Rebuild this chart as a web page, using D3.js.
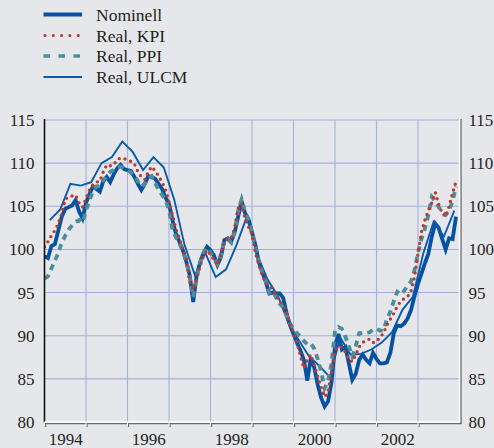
<!DOCTYPE html>
<html><head><meta charset="utf-8">
<script src="https://cdn.jsdelivr.net/npm/d3@7"></script>
<style>
html,body{margin:0;padding:0;background:#e6e7ea;}
svg{display:block;}
</style></head>
<body>
<script>
// ---- data (monthly, Jan 1994 – Dec 2003) ----
const startYear = 1994;
const nominell = [
 99.2,99.0,100.4,100.6,102.2,103.8,104.7,104.9,105.1,105.7,104.4,103.6,
 105.4,106.4,107.3,107.0,106.7,107.9,108.4,107.8,108.7,109.4,109.8,109.3,
 109.2,109.1,108.4,107.6,106.9,107.6,108.5,108.4,108.2,107.6,107.0,106.0,
 105.3,103.4,101.8,100.9,99.9,98.6,97.0,93.9,97.0,98.5,99.6,100.3,
 99.9,99.3,98.2,99.1,101.1,101.3,100.9,102.0,103.8,105.6,104.2,103.5,
 102.0,100.5,98.5,97.3,96.2,94.9,95.0,94.9,94.9,94.4,92.6,91.2,
 90.2,89.2,88.3,87.2,84.8,87.4,86.3,84.3,82.8,81.8,82.4,84.6,
 88.8,90.2,88.4,88.7,86.8,84.9,85.6,87.2,87.8,87.2,86.8,88.0,
 87.3,86.8,86.8,86.9,88.0,90.3,91.2,91.1,91.4,92.0,93.0,94.6,
 96.0,97.2,98.4,99.5,101.5,103.0,102.5,101.2,100.0,101.3,101.2,103.8];
const realKPI = [
 100.3,100.9,101.6,102.2,103.0,104.2,105.8,106.1,106.2,106.3,105.4,104.9,
 105.9,106.9,107.5,107.8,107.9,109.0,109.8,109.7,109.8,110.4,110.6,110.5,
 110.4,110.2,109.9,109.0,108.4,108.1,109.0,109.6,109.1,108.5,107.8,106.9,
 105.5,104.0,102.4,101.3,100.0,99.0,96.2,95.3,96.6,98.1,99.3,99.9,
 99.4,98.8,98.2,99.5,100.8,101.3,101.3,102.5,104.8,105.3,103.6,102.6,
 101.8,99.6,98.2,97.0,96.1,95.8,95.4,94.6,94.0,93.5,92.7,91.3,
 90.4,89.2,87.7,86.2,87.2,87.8,86.6,85.3,84.0,82.9,83.5,85.8,
 88.3,88.7,88.7,88.1,87.2,87.0,87.8,88.7,89.2,89.5,89.6,89.2,
 89.3,89.8,90.3,91.2,91.9,92.6,93.4,94.0,94.3,94.5,95.2,96.8,
 99.5,102.0,103.4,104.5,105.4,106.6,105.2,104.2,103.8,105.0,106.5,107.9];
const realPPI = [
 96.6,96.9,97.8,98.7,99.6,100.8,101.6,102.3,102.8,103.2,103.4,103.1,
 104.5,105.7,106.7,107.3,107.4,108.0,108.5,109.0,109.2,109.5,109.6,109.4,
 109.2,108.9,108.6,107.9,107.3,107.6,108.2,108.5,107.7,106.9,106.3,105.7,
 104.6,102.3,101.4,100.7,99.8,98.6,96.8,94.5,96.8,98.4,99.6,100.2,
 99.6,99.0,98.3,99.3,101.0,101.2,100.8,102.2,104.5,105.8,104.3,103.4,
 101.9,100.2,98.6,97.2,96.3,95.0,95.2,94.4,93.7,93.3,92.4,91.4,
 90.8,90.3,89.9,89.4,89.0,89.1,88.5,87.3,85.8,83.9,84.7,86.8,
 90.6,91.0,90.8,89.9,88.8,87.6,88.8,90.3,90.3,90.3,90.4,90.7,
 90.8,90.6,90.6,91.9,92.8,94.0,95.1,94.8,95.2,95.8,96.3,97.6,
 99.6,101.2,102.4,104.0,106.1,105.6,104.9,104.3,104.0,104.5,105.6,107.3];
// quarterly, Q1 1994 – Q4 2003
const realULCM = [
 103.4,104.6,107.6,107.4,107.8,110.0,110.7,112.5,111.3,109.2,110.7,109.5,
 105.8,100.5,97.0,99.6,96.8,97.7,100.5,103.8,99.4,96.5,94.6,91.5,
 89.5,87.6,86.5,85.2,89.8,87.8,87.9,88.4,89.2,90.4,93.0,94.5,
 99.5,103.2,101.5,104.5];
const yTicks = [80,85,90,95,100,105,110,115];
const xLabels = [1994,1996,1998,2000,2002];
const gridYears = [1995,1996,1997,1998,1999,2000,2001,2002,2003];
const seriesNames = ["Nominell","Real, KPI","Real, PPI","Real, ULCM"];

// ---- layout ----
const W = 494, H = 448;
const L = 44.5, R = 459.5, T = 120, B = 422;
const FONT = "'Liberation Serif'";
const svg = d3.select("body").append("svg").attr("width", W).attr("height", H);
svg.append("rect").attr("width", W).attr("height", H).attr("fill", "#e6e7ea");

const x = d3.scaleLinear().domain([1994, 2004]).range([L, R]);
const y = d3.scaleLinear().domain([80, 115]).range([B, T]);

// grid
const grid = svg.append("g").attr("stroke", "#a3b1dc").attr("stroke-width", 1.1);
grid.selectAll("line.h").data(yTicks.filter(v => v > 80)).join("line")
  .attr("x1", L).attr("x2", R).attr("y1", d => y(d)).attr("y2", d => y(d));
grid.selectAll("line.v").data(gridYears).join("line")
  .attr("x1", d => x(d)).attr("x2", d => x(d)).attr("y1", T).attr("y2", B);

// axes (labels via d3 axes)
function styleAxis(g) {
  g.attr("font-family", null).attr("font-size", null);
  g.select(".domain").remove();
  g.selectAll("text").attr("fill", "#231f20").attr("font-family", FONT).attr("font-size", 17);
}
const gL = svg.append("g").attr("transform", `translate(${L},0)`)
  .call(d3.axisLeft(y).tickValues(yTicks).tickSize(0).tickPadding(10));
styleAxis(gL);
const gR = svg.append("g").attr("transform", `translate(${R},0)`)
  .call(d3.axisRight(y).tickValues(yTicks).tickSize(0).tickPadding(9));
styleAxis(gR);
const gX = svg.append("g").attr("transform", `translate(0,${B})`)
  .call(d3.axisBottom(x).tickValues(xLabels.map(v => v + 0.5)).tickFormat(d => Math.floor(d)).tickSize(0).tickPadding(11));
styleAxis(gX);

// lines
const line = d3.line().x(d => x(d.t)).y(d => y(d.v));
const monthly = arr => arr.map((v, i) => ({t: startYear + i / 12, v}));
const quarterly = arr => arr.map((v, i) => ({t: startYear + (i + 0.5) / 4, v}));

svg.append("clipPath").attr("id", "c").append("rect")
  .attr("x", L).attr("y", T - 5).attr("width", R - L).attr("height", B - T + 5);
const plot = svg.append("g").attr("clip-path", "url(#c)");

plot.append("path").attr("d", line(monthly(nominell))).attr("fill", "none")
  .attr("stroke", "#0652a2").attr("stroke-width", 3.8);
plot.append("path").attr("d", line(quarterly(realULCM))).attr("fill", "none")
  .attr("stroke", "#0a5aa8").attr("stroke-width", 1.9);
plot.append("path").attr("d", line(monthly(realPPI))).attr("fill", "none")
  .attr("stroke", "#4a8e9c").attr("stroke-width", 3.8).attr("stroke-dasharray", "6,5");
plot.append("path").attr("d", line(monthly(realKPI))).attr("fill", "none")
  .attr("stroke", "#bd3a2f").attr("stroke-width", 3.4).attr("stroke-linecap", "round")
  .attr("stroke-dasharray", "0,6");

// frame
svg.append("line").attr("x1", L).attr("x2", L).attr("y1", T - 1).attr("y2", B + 1)
  .attr("stroke", "#111").attr("stroke-width", 1.6);
svg.append("line").attr("x1", R + 1.5).attr("x2", R + 1.5).attr("y1", T - 1).attr("y2", B + 2)
  .attr("stroke", "#6a6a6a").attr("stroke-width", 1.4);
svg.append("line").attr("x1", R).attr("x2", R).attr("y1", T - 1).attr("y2", B)
  .attr("stroke", "#ffffff").attr("stroke-width", 1.4);
svg.append("line").attr("x1", L).attr("x2", R + 2).attr("y1", B + 1.6).attr("y2", B + 1.6)
  .attr("stroke", "#6a6a6a").attr("stroke-width", 1.4);
svg.append("line").attr("x1", L).attr("x2", R).attr("y1", B).attr("y2", B)
  .attr("stroke", "#ffffff").attr("stroke-width", 1.4);
const tickYears = [1994].concat(gridYears);
svg.append("g").selectAll("line").data(tickYears).join("line")
  .attr("x1", d => x(d) + 1).attr("x2", d => x(d) + 1).attr("y1", B + 1).attr("y2", B + 5)
  .attr("stroke", "#6a6a6a").attr("stroke-width", 1.3);
svg.append("g").selectAll("line").data(tickYears).join("line")
  .attr("x1", d => x(d)).attr("x2", d => x(d)).attr("y1", B).attr("y2", B + 4)
  .attr("stroke", "#ffffff").attr("stroke-width", 1);

// legend
const lg = svg.append("g");
const rowY = [14.5, 35.5, 56, 77];
const lx1 = 43.5, lx2 = 82;
lg.append("line").attr("x1", lx1).attr("x2", lx2).attr("y1", rowY[0]).attr("y2", rowY[0])
  .attr("stroke", "#0652a2").attr("stroke-width", 3.8);
lg.append("line").attr("x1", lx1 + 1.5).attr("x2", lx2).attr("y1", rowY[1]).attr("y2", rowY[1])
  .attr("stroke", "#bd3a2f").attr("stroke-width", 3.2).attr("stroke-linecap", "round").attr("stroke-dasharray", "0,8.3");
lg.append("line").attr("x1", lx1).attr("x2", lx2).attr("y1", rowY[2]).attr("y2", rowY[2])
  .attr("stroke", "#4a8e9c").attr("stroke-width", 3.6).attr("stroke-dasharray", "6.5,8.5");
lg.append("line").attr("x1", lx1).attr("x2", lx2).attr("y1", rowY[3]).attr("y2", rowY[3])
  .attr("stroke", "#0a5aa8").attr("stroke-width", 2);
lg.selectAll("text").data(seriesNames).join("text")
  .attr("x", 96).attr("y", (d, i) => rowY[i]).attr("dy", "0.35em")
  .attr("font-family", FONT).attr("font-size", 17.5).attr("fill", "#231f20").text(d => d);
</script>
</body></html>
